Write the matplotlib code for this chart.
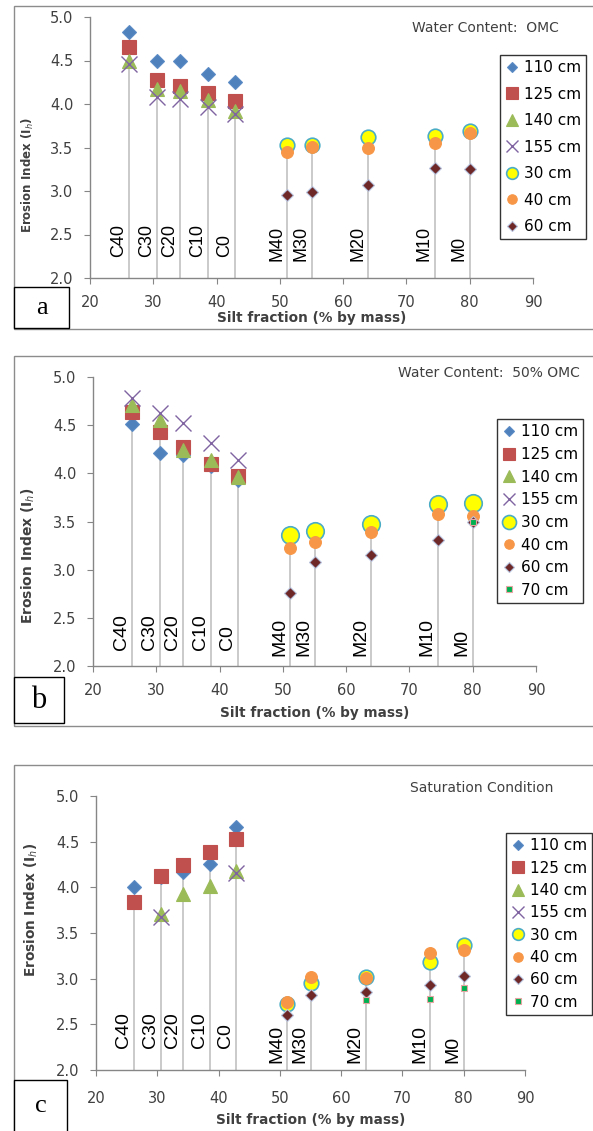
import numpy as np
import matplotlib
matplotlib.use("Agg")
import matplotlib.pyplot as plt
from matplotlib.patches import Rectangle

nan = np.nan

# soils and their silt fractions (% by mass)
soils_c = ["C40", "C30", "C20", "C10", "C0"]
silt_c = [26.2, 30.6, 34.2, 38.6, 42.9]
soils_m = ["M40", "M30", "M20", "M10", "M0"]
silt_m = [51.2, 55.0, 64.0, 74.5, 80.0]

labels_c = ["110 cm", "125 cm", "140 cm", "155 cm"]
labels_m = ["30 cm", "40 cm", "60 cm", "70 cm"]

# panel a - water content OMC (clay soils: 110..155 cm, silt soils: 30..70 cm)
a_110 = [4.83, 4.50, 4.50, 4.35, 4.25]
a_125 = [4.65, 4.28, 4.21, 4.13, 4.04]
a_140 = [4.49, 4.17, 4.15, 4.05, 3.92]
a_155 = [4.46, 4.08, 4.06, 3.96, 3.88]
a_30 = [3.53, 3.53, 3.62, 3.63, 3.69]
a_40 = [3.45, 3.51, 3.50, 3.55, 3.67]
a_60 = [2.95, 2.99, 3.07, 3.27, 3.25]

# panel b - water content 50% OMC
b_110 = [4.51, 4.21, 4.19, 4.08, 3.93]
b_125 = [4.64, 4.43, 4.27, 4.10, 3.97]
b_140 = [4.71, 4.55, 4.24, 4.14, 3.96]
b_155 = [4.78, 4.63, 4.52, 4.32, 4.14]
b_30 = [3.36, 3.40, 3.47, 3.68, 3.69]
b_40 = [3.22, 3.29, 3.39, 3.58, 3.56]
b_60 = [2.76, 3.08, 3.15, 3.31, 3.50]
b_70 = [nan, nan, nan, nan, 3.49]

# panel c - saturation
c_110 = [4.00, 4.11, 4.17, 4.26, 4.66]
c_125 = [3.84, 4.12, 4.24, 4.39, 4.53]
c_140 = [nan, 3.71, 3.93, 4.02, 4.18]
c_155 = [nan, 3.68, nan, nan, 4.16]
c_30 = [2.72, 2.95, 3.02, 3.18, 3.37]
c_40 = [2.75, 3.02, 3.01, 3.28, 3.31]
c_60 = [2.60, 2.82, 2.85, 2.93, 3.03]
c_70 = [nan, nan, 2.77, 2.78, 2.90]

W, H = 593, 1131


def fx(px):
    return px / W


def fy(py):
    return 1 - py / H


# marker styles per series: marker, face, edge, size (plot), edge width
styles = {
    "110 cm": ("D", "#4F81BD", "#5B8BC6", 6.8, 0.8),
    "125 cm": ("s", "#C0504D", "#C0504D", 10, 0.8),
    "140 cm": ("^", "#9BBB59", "#9BBB59", 10.5, 0.8),
    "155 cm": ("x", "#8064A2", "#8064A2", 11, 1.0),
    "30 cm": ("o", "#FFFF00", "#4BACC6", 10.5, 1.2),
    "40 cm": ("o", "#F79646", "#F79646", 8.5, 0.8),
    "60 cm": ("D", "#6E2828", "#B8C4DE", 6, 0.8),
    "70 cm": ("s", "#00B050", "#E6A5A3", 5, 0.8),
}

fig = plt.figure(figsize=(W / 100, H / 100), dpi=100)


def panel(rect, frame, box, letter, letter_size, title, title_pos, clay, silt,
          drop_c, drop_m, lab_y, lab_size, leg_pos, leg_space, ylab_pos, ylab_size,
          xlab_y, xpad, big30=1.0):
    ax = fig.add_axes(rect)
    # frame around the panel (right edge runs off the picture)
    fig.add_artist(Rectangle((fx(14), fy(frame[1])), 1.2, (frame[1] - frame[0]) / H,
                             transform=fig.transFigure, fill=False,
                             edgecolor="#8C8C8C", lw=1.0))
    fig.add_artist(Rectangle((fx(14), fy(box[3])), (box[1] - 14) / W, (box[3] - box[2]) / H,
                             transform=fig.transFigure, facecolor="white",
                             edgecolor="black", lw=1.0, zorder=5))
    fig.text(fx((14 + box[1]) / 2), fy((box[2] + min(box[3], H)) / 2), letter,
             family="Liberation Serif", fontsize=letter_size, ha="center",
             va="center", zorder=6)

    # drop lines
    ax.vlines(silt_c, 2.0, drop_c, color="#CACACA", lw=1.4, zorder=1)
    ax.vlines(silt_m, 2.0, drop_m, color="#CACACA", lw=1.4, zorder=1)

    handles = []
    for lab, vals in zip(labels_c, clay):
        m, fc, ec, ms, mew = styles[lab]
        h, = ax.plot(silt_c, vals, ls="none", marker=m, mfc=fc, mec=ec,
                     ms=ms, mew=mew, color=fc, label=lab, zorder=3)
        handles.append(h)
    for lab, vals in zip(labels_m, silt):
        m, fc, ec, ms, mew = styles[lab]
        if lab == "30 cm":
            ms = ms * big30
        h, = ax.plot(silt_m, vals, ls="none", marker=m, mfc=fc, mec=ec,
                     ms=ms, mew=mew, color=fc, label=lab, zorder=3)
        handles.append(h)

    for names, xs, ly in ((soils_c, silt_c, lab_y[0]), (soils_m, silt_m, lab_y[1])):
        for n, x in zip(names, xs):
            ax.annotate(n, (x, ly), xytext=(-1.5, 0), textcoords="offset points",
                        rotation=90, ha="right", va="bottom",
                        family="Liberation Sans", fontsize=lab_size, color="black")

    ax.set_xlim(20, 90)
    ax.set_ylim(2.0, 5.0)
    ax.set_xticks(np.arange(20, 91, 10))
    ax.set_yticks(np.arange(2.0, 5.01, 0.5))
    ax.set_yticklabels([f"{v:.1f}" for v in np.arange(2.0, 5.01, 0.5)])
    for s in ("top", "right"):
        ax.spines[s].set_visible(False)
    for s in ("left", "bottom"):
        ax.spines[s].set_color("#868686")
        ax.spines[s].set_linewidth(1.0)
    ax.tick_params(axis="x", direction="out", length=4, color="#868686",
                   labelsize=10.5, labelcolor="#404040", pad=xpad)
    ax.tick_params(axis="y", direction="out", length=4, color="#868686",
                   labelsize=10.5, labelcolor="#404040", pad=8)
    ax.patch.set_alpha(0)

    fig.text(fx(ylab_pos[0]), fy(ylab_pos[1]), r"Erosion Index (I$_h$)",
             rotation=90, ha="center", va="center", fontsize=ylab_size,
             fontweight="bold", color="#404040")
    fig.text(fx((rect[0] + rect[2] / 2) * W), fy(xlab_y), "Silt fraction (% by mass)",
             ha="center", va="center", fontsize=9.8, fontweight="bold",
             color="#404040")
    fig.text(fx(title_pos[0]), fy(title_pos[1]), title, ha="left", va="center",
             fontsize=10, color="#404040")

    leg = ax.legend(handles=handles, loc="upper left",
                    bbox_to_anchor=(fx(leg_pos[0]), fy(leg_pos[1])),
                    bbox_transform=fig.transFigure, borderaxespad=0,
                    frameon=True, fancybox=False, edgecolor="black",
                    fontsize=11, handlelength=0.9, handletextpad=0.3,
                    labelspacing=leg_space, borderpad=0.35, numpoints=1,
                    markerscale=0.8)
    leg.get_frame().set_linewidth(1.0)
    return ax


def axrect(x0, x1, y_top, y_bot):
    return [fx(x0), fy(y_bot), (x1 - x0) / W, (y_bot - y_top) / H]


panel(axrect(90, 533, 17, 278), (6, 329), (14, 69, 287, 328), "a", 19,
      "Water Content:  OMC", (412, 28),
      [a_110, a_125, a_140, a_155], [a_30, a_40, a_60],
      a_125, a_30, (2.24, 2.2), 13, (500, 55), 0.75, (28, 175), 8.5, 318, 8.5)

panel(axrect(93, 536, 377, 666), (356, 726), (14, 64, 677, 723), "b", 22,
      "Water Content:  50% OMC", (398, 373),
      [b_110, b_125, b_140, b_155], [b_30, b_40, b_60, b_70],
      b_125, b_30, (2.17, 2.1), 14, (497, 419), 0.5, (28, 556), 10, 713, 8.5,
      big30=1.2)

panel(axrect(96, 525, 796, 1070), (765, 1140), (14, 67, 1080, 1140), "c", 19,
      "Saturation Condition", (410, 788),
      [c_110, c_125, c_140, c_155], [c_30, c_40, c_60, c_70],
      c_125, c_30, (2.24, 2.08), 14, (506, 833), 0.48, (31, 910), 9.8, 1120, 11)

fig.savefig("out.png", dpi=100)
